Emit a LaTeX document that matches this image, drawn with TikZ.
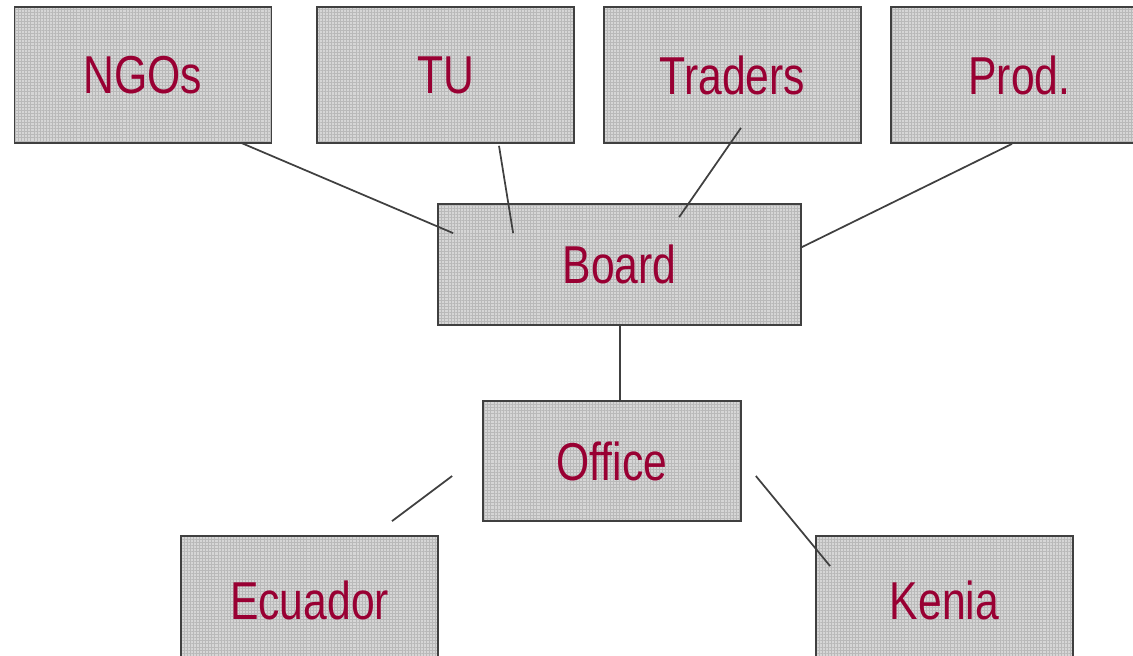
\documentclass[tikz,border=0pt]{standalone}
\usepackage{fontspec}
\setmainfont{Liberation Sans}[FakeStretch=0.8]
\usetikzlibrary{calc,patterns.meta}
\definecolor{labelred}{RGB}{153,0,51}
\definecolor{edgegray}{RGB}{64,64,64}
\definecolor{boxgray}{RGB}{214,214,214}
\tikzset{
  orgbox/.style={draw=edgegray, line width=1.3pt,
    preaction={fill=boxgray},
    pattern={Hatch[distance=2.3pt,angle=0,line width=0.35pt]},
    pattern color=gray!55,
    text=labelred, font=\fontsize{40}{48}\selectfont,
    inner sep=0pt, anchor=center},
  link/.style={draw=edgegray, line width=1.3pt}
}
\begin{document}
\begin{tikzpicture}[x=0.75pt,y=-0.75pt]
\useasboundingbox (0,0) rectangle (1133,656);
\clip (0,0) rectangle (1133,656);
\fill[white] (0,0) rectangle (1133,656);

% top row of stakeholders
\node[orgbox, minimum width=192.75pt, minimum height=102pt] (ngo) at (143,75) {NGOs};
\node[orgbox, minimum width=192.75pt, minimum height=102pt] (tu) at (445.5,75) {TU};
\node[orgbox, minimum width=192.75pt, minimum height=102pt] (traders) at (732.5,75) {Traders};
\node[orgbox, minimum width=192.75pt, minimum height=102pt] (prod) at (1019.5,75) {Prod.};

% board and office
\node[orgbox, minimum width=272.25pt, minimum height=90.75pt] (board) at (619.5,264.5) {Board};
\node[orgbox, minimum width=193.5pt, minimum height=90pt] (office) at (612,461) {Office};

% country offices
\node[orgbox, minimum width=192.75pt, minimum height=96pt] (ecuador) at (309.5,600) {Ecuador};
\node[orgbox, minimum width=192.75pt, minimum height=96pt] (kenia) at (944.5,600) {Kenia};

% connector end points
\coordinate (a1) at ($(ngo.south)+(99,0)$);
\coordinate (b1) at ($(board.north west)+(16,30)$);
\coordinate (a2) at ($(tu.south)+(53.5,2)$);
\coordinate (b2) at ($(board.north west)+(76,30)$);
\coordinate (a3) at ($(traders.south)+(8.5,-16)$);
\coordinate (b3) at ($(board.north west)+(242,14)$);
\coordinate (a4) at ($(prod.south)+(-7.5,0)$);
\coordinate (b4) at ($(board.north east)+(0,44)$);
\coordinate (bs) at ($(board.south)+(0.5,0)$);
\coordinate (c1) at ($(office.west)+(-30,15)$);
\coordinate (d1) at ($(ecuador.north)+(82.5,-14)$);
\coordinate (c2) at ($(office.east)+(14,15)$);
\coordinate (d2) at ($(kenia.north west)+(15,31)$);

% connectors
\draw[link] (a1) -- (b1);
\draw[link] (a2) -- (b2);
\draw[link] (a3) -- (b3);
\draw[link] (a4) -- (b4);
\draw[link] (bs) -- (bs |- office.north);
\draw[link] (c1) -- (d1);
\draw[link] (c2) -- (d2);
\end{tikzpicture}
\end{document}
